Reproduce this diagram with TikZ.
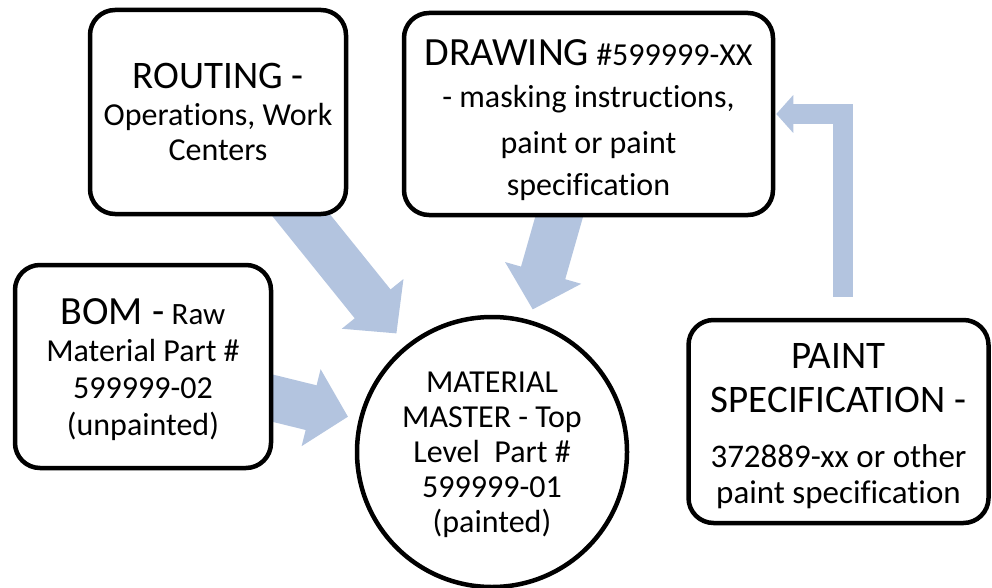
\documentclass[tikz,border=0pt]{standalone}
\usepackage{fontspec}
\setmainfont{Carlito}[Ligatures=NoCommon]
\usetikzlibrary{arrows.meta,backgrounds,calc}
\definecolor{flowblue}{RGB}{179,196,223}
\newcommand{\fsz}[2]{\fontsize{#1}{#2}\selectfont}
\begin{document}
\begin{tikzpicture}[x=1pt,y=-1pt,
  box/.style={draw,line width=4.5pt,rounded corners=25pt,fill=white,align=center,inner sep=0pt},
  bigflow/.style={draw=flowblue,line width=46pt,-{Triangle[width=77pt,length=38pt]}},
  smallflow/.style={draw=flowblue,line width=20pt,line join=miter,-{Triangle[width=37pt,length=17pt]}}]
\useasboundingbox (0,0) rectangle (992,588);
% the four sources and the master record
\node[box,minimum width=256pt,minimum height=204pt,font=\fsz{32}{35}] (routing) at (218,112)
  {{\fsz{39}{37}ROUTING -}\\[2pt]Operations, Work\\Centers};
\node[box,minimum width=369pt,minimum height=202pt,font=\fsz{32}{42}] (drawing) at (588.5,114)
  {\rule{0pt}{38pt}{\fsz{40}{42}DRAWING} \#599999-XX\\- masking instructions,\\[4pt]paint or paint\\specification};
\node[box,minimum width=256pt,minimum height=203pt,font=\fsz{32}{37}] (bom) at (143,366.5)
  {\rule{0pt}{32pt}{\fsz{40}{37}BOM -} {\fsz{31}{37}Raw}\\Material Part \#\\599999-02\\(unpainted)};
\node[box,minimum width=300pt,minimum height=203pt,font=\fsz{33}{37}] (paint) at (838.5,421.5)
  {\rule{0pt}{35pt}{\fsz{39}{37}PAINT}\\[7pt]{\fsz{39}{37}SPECIFICATION -}\\[18pt]372889-xx or other\\[-1pt]paint specification};
\node[draw,circle,line width=4.5pt,fill=white,minimum size=270pt,inner sep=0pt,align=center,font=\fsz{32}{35}] (master) at (492,452)
  {\rule{0pt}{26pt}MATERIAL\\MASTER - Top\\Level\ \ Part \#\\599999-01\\(painted)};
% block arrows behind the boxes
\coordinate (pbase) at ($(paint.north)+(4.5,-21)$);
\begin{pgfonlayer}{background}
\draw[bigflow,shorten <=-30pt,shorten >=15pt] (routing) -- (master);
\draw[bigflow,shorten <=-30pt,shorten >=11pt] (drawing) -- (master);
\draw[bigflow,shorten <=-30pt,shorten >=11pt] (bom) -- (master);
\draw[smallflow] (pbase) |- ([xshift=1pt]drawing.east);
\end{pgfonlayer}
\end{tikzpicture}
\end{document}
